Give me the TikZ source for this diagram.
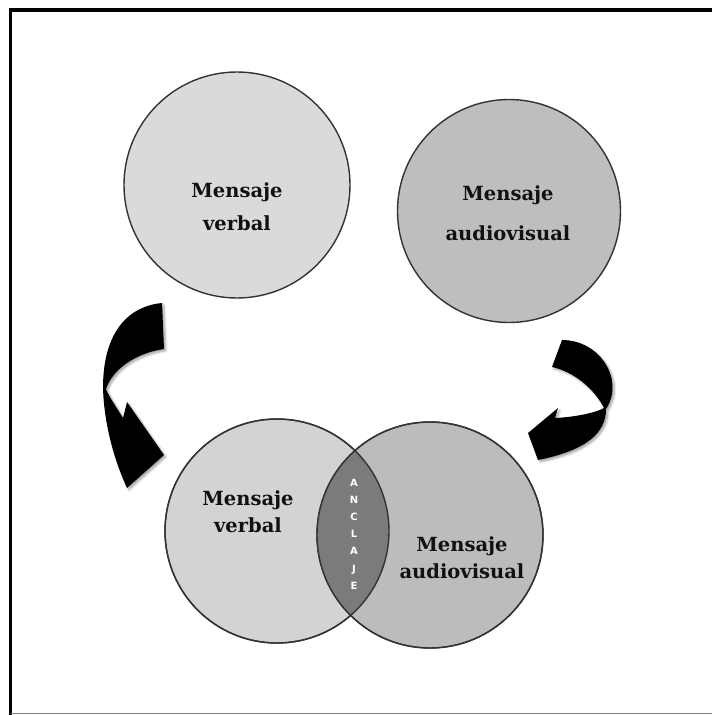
\documentclass[tikz,border=0pt]{standalone}
\usepackage{fontspec}
\setmainfont{DejaVu Serif}
\setsansfont{DejaVu Sans}
\usetikzlibrary{
  shadows.blur
}
\definecolor{verbalclr}{HTML}{DADADA}
\definecolor{audioclr}{HTML}{BEBEBE}
\definecolor{verballow}{HTML}{D3D3D3}
\definecolor{audiolow}{HTML}{BCBCBC}
\definecolor{anclaclr}{HTML}{7B7B7B}
\definecolor{edgeclr}{HTML}{333333}
\definecolor{textclr}{HTML}{111111}

\begin{document}
\begin{tikzpicture}[x=1pt, y=-1pt,
    circ/.style={circle, draw=edgeclr, line width=1.4pt, inner sep=0pt},
    msg/.style={font=\bfseries\fontsize{19.5}{27}\selectfont,
                text=textclr, align=center},
    curvarrow/.style={fill=black, blur shadow={shadow xshift=2pt,
                 shadow yshift=-2pt, shadow blur steps=4, shadow opacity=35}},
  ]
  \useasboundingbox (0,0) rectangle (712,715);
  % frame
  \draw[line width=3.5pt] (712,10) -- (10.5,10) -- (10.5,715);
  \draw[gray, line width=1pt] (10.5,713.5) -- (712,713.5);

  % top circles
  \node[circ, fill=verbalclr, minimum size=226pt] (tv) at (237,185) {};
  \node[circ, fill=audioclr,  minimum size=223pt] (ta) at (509,211) {};
  \node[msg] (tvtext) at (237,207) {Mensaje\\[6pt]verbal};
  \node[msg] (tatext) at (508,213) {Mensaje\\[13pt]audiovisual};

  % bottom circles and their overlap
  \node[circ, fill=verballow, minimum size=224pt] (bv) at (277,531) {};
  \node[circ, fill=audiolow,  minimum size=226pt] (ba) at (430,535) {};
  \begin{scope}
    \clip (bv.center) circle[radius=112pt];
    \fill[anclaclr] (ba.center) circle[radius=113pt];
  \end{scope}
  \draw[edgeclr, line width=1.4pt] (bv.center) circle[radius=112pt];
  \draw[edgeclr, line width=1.4pt] (ba.center) circle[radius=113pt];

  \node[msg] (bvtext) at (248,512) {Mensaje\\verbal};
  \node[msg] (batext) at (462,558) {Mensaje\\audiovisual};
  \node[font=\sffamily\bfseries\fontsize{10}{17.2}\selectfont, text=white,
        align=center] (ancla) at (354,534) {A\\N\\C\\L\\A\\J\\E};

  % curved arrows
  \fill[curvarrow] (162,303) .. controls (130,306) and (103,330) .. (103,388)
    .. controls (104,420) and (112,455) .. (127,488)
    -- (164,455) -- (127,402) -- (123,418)
    .. controls (115,405) and (108,395) .. (106,389)
    .. controls (112,370) and (135,353) .. (164,349) -- cycle;
  \fill[curvarrow] (562,340) .. controls (600,340) and (625,380) .. (606,409)
    .. controls (606,432) and (588,450) .. (538,460)
    -- (528,433) -- (558,408) -- (555,418)
    .. controls (575,417) and (595,413) .. (604,408)
    .. controls (595,390) and (575,372) .. (552,367) -- cycle;
\end{tikzpicture}
\end{document}
